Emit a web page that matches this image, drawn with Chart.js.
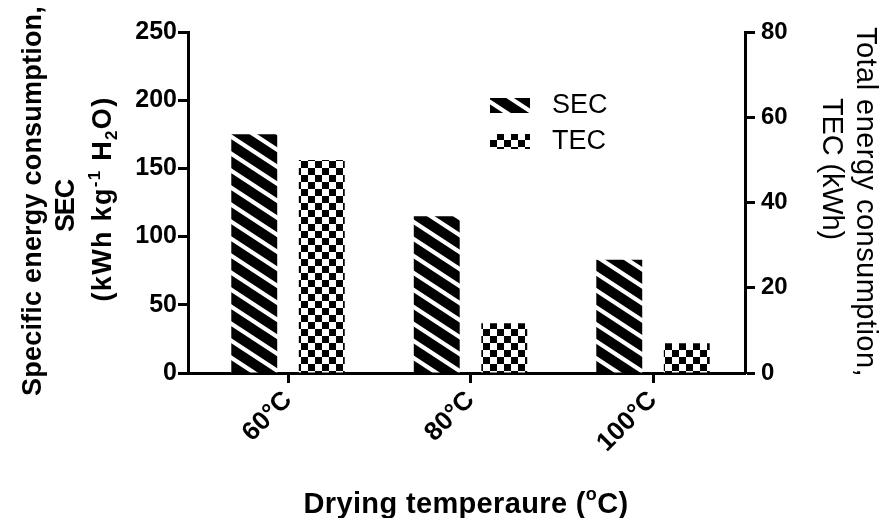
<!DOCTYPE html>
<html><head><meta charset="utf-8">
<script src="https://cdn.jsdelivr.net/npm/chart.js@4.4.1/dist/chart.umd.min.js"></script>
<style>html,body{margin:0;padding:0;background:#fff;} canvas{display:block}</style>
</head><body>
<canvas id="c" width="884" height="518"></canvas>
<script>
// ---- data ----
const categories = ['60°C', '80°C', '100°C'];
const seriesNames = ['SEC', 'TEC'];
const secValues = [175, 115, 83];
const tecValues = [50, 11.7, 7];
const secTickValues = [0, 50, 100, 150, 200, 250];
const tecTickValues = [0, 20, 40, 60, 80];

const FAMILY = "'Liberation Sans', Arial, sans-serif";
Chart.defaults.font.family = FAMILY;
Chart.defaults.color = '#000';

const helperCtx = document.createElement('canvas').getContext('2d');
function stripePattern() {
  const W = 26, H = 17, t = 5;
  const c = document.createElement('canvas'); c.width = W; c.height = H;
  const g = c.getContext('2d');
  g.fillStyle = '#000'; g.fillRect(0, 0, W, H);
  g.fillStyle = '#fff';
  for (const off of [-H, 0]) {
    g.beginPath(); g.moveTo(0, off); g.lineTo(W, off + H); g.lineTo(W, off + H + t); g.lineTo(0, off + t); g.closePath(); g.fill();
  }
  return helperCtx.createPattern(c, 'repeat');
}
function checkPattern() {
  const s = 7;
  const c = document.createElement('canvas'); c.width = 2 * s; c.height = 2 * s;
  const g = c.getContext('2d');
  g.fillStyle = '#fff'; g.fillRect(0, 0, 2 * s, 2 * s);
  g.fillStyle = '#000'; g.fillRect(0, 0, s, s); g.fillRect(s, s, s, s);
  return helperCtx.createPattern(c, 'repeat');
}

function drawRich(ctx, segs, cx, cy, angle, weight, size, targetWidth) {
  ctx.save();
  ctx.translate(cx, cy);
  ctx.rotate(angle);
  ctx.textBaseline = 'alphabetic';
  ctx.textAlign = 'left';
  ctx.fillStyle = '#000';
  const setFont = s => { ctx.font = `${weight} ${Math.round(size * (s.scale || 1))}px ${FAMILY}`; };
  if ('letterSpacing' in ctx) ctx.letterSpacing = '0px';
  let natural = 0, n = 0;
  for (const s of segs) { setFont(s); natural += ctx.measureText(s.t).width; n += s.t.length; }
  let ls = 0;
  if (targetWidth && 'letterSpacing' in ctx) { ls = (targetWidth - natural) / n; ctx.letterSpacing = ls + 'px'; }
  let x = -(natural + ls * n) / 2;
  for (const s of segs) {
    setFont(s);
    ctx.fillText(s.t, x, (s.dy || 0) * size);
    x += ctx.measureText(s.t).width;
  }
  ctx.restore();
}

const titlesPlugin = {
  id: 'titles',
  afterDraw(chart) {
    const ctx = chart.ctx;
    // left axis title (3 lines)
    drawRich(ctx, [{t: 'Specific energy consumption,'}], 41, 201, -Math.PI / 2, 'bold', 27, 390);
    drawRich(ctx, [{t: 'SEC'}], 74, 206, -Math.PI / 2, 'bold', 27, 52);
    drawRich(ctx, [{t: '(kWh kg'}, {t: '-1', scale: 0.62, dy: -0.42}, {t: ' H'}, {t: '2', scale: 0.62, dy: 0.22}, {t: 'O)'}],
      111, 199, -Math.PI / 2, 'bold', 27, 205);
    // right axis title (2 lines)
    drawRich(ctx, [{t: 'Total energy consumption,'}], 857, 202, Math.PI / 2, 'normal', 29, 350);
    drawRich(ctx, [{t: 'TEC (kWh)'}], 823, 169, Math.PI / 2, 'normal', 29, 142);
    // x axis title
    drawRich(ctx, [{t: 'Drying temperaure ('}, {t: 'o', scale: 0.62, dy: -0.45}, {t: 'C)'}], 466, 513, 0, 'bold', 29, 325);
  }
};

const legendPlugin = {
  id: 'patternLegend',
  afterDatasetsDraw(chart) {
    const ctx = chart.ctx;
    ctx.save();
    chart.data.datasets.forEach((ds, i) => {
      const y = 98 + i * 36;
      ctx.fillStyle = ds.backgroundColor;
      ctx.fillRect(490, y, 40, 15);
      ctx.fillStyle = '#000';
      ctx.font = `normal 27px ${FAMILY}`;
      ctx.textBaseline = 'alphabetic';
      ctx.textAlign = 'left';
      ctx.fillText(ds.label, 552, y + 15);
    });
    ctx.restore();
  }
};

const axisBorder = {display: true, width: 3, color: '#000'};
const axisGrid = {display: true, drawOnChartArea: false, drawTicks: true, tickLength: 10, tickWidth: 3, tickColor: '#000', offset: false};

new Chart(document.getElementById('c'), {
  type: 'bar',
  data: {
    datasets: [
      {label: seriesNames[0], data: secValues.map((v, i) => ({x: i, y: v})), backgroundColor: stripePattern(), borderWidth: 0, yAxisID: 'y',
       categoryPercentage: 0.74, barPercentage: 0.68},
      {label: seriesNames[1], data: tecValues.map((v, i) => ({x: i, y: v})), backgroundColor: checkPattern(), borderWidth: 0, yAxisID: 'y2',
       categoryPercentage: 0.74, barPercentage: 0.68}
    ]
  },
  options: {
    responsive: false,
    animation: false,
    events: [],
    layout: {padding: {top: 32, bottom: 0, left: 0, right: 0}},
    plugins: {legend: {display: false}, tooltip: {enabled: false}, title: {display: false}},
    scales: {
      x: {
        type: 'linear', min: -0.548, max: 2.504, bounds: 'data', offset: false,
        afterBuildTicks: s => { s.ticks = categories.map((_, i) => ({value: i})); },
        ticks: {callback: v => categories[v], minRotation: 45, maxRotation: 45, autoSkip: false,
                font: {size: 26, weight: 'bold'}, color: '#000', padding: 2},
        grid: axisGrid, border: axisBorder,
        afterFit: s => { s.height = 145; }
      },
      y: {
        position: 'left', min: 0, max: 250,
        afterBuildTicks: s => { s.ticks = secTickValues.map(v => ({value: v})); },
        ticks: {font: {size: 25, weight: 'bold'}, color: '#000', padding: 1},
        grid: axisGrid, border: axisBorder,
        afterFit: s => { s.width = 188; }
      },
      y2: {
        position: 'right', min: 0, max: 80,
        afterBuildTicks: s => { s.ticks = tecTickValues.map(v => ({value: v})); },
        ticks: {font: {size: 24, weight: 'bold'}, color: '#000', padding: 6},
        grid: axisGrid, border: axisBorder,
        afterFit: s => { s.width = 139; }
      }
    }
  },
  plugins: [titlesPlugin, legendPlugin]
});
</script>
</body></html>
